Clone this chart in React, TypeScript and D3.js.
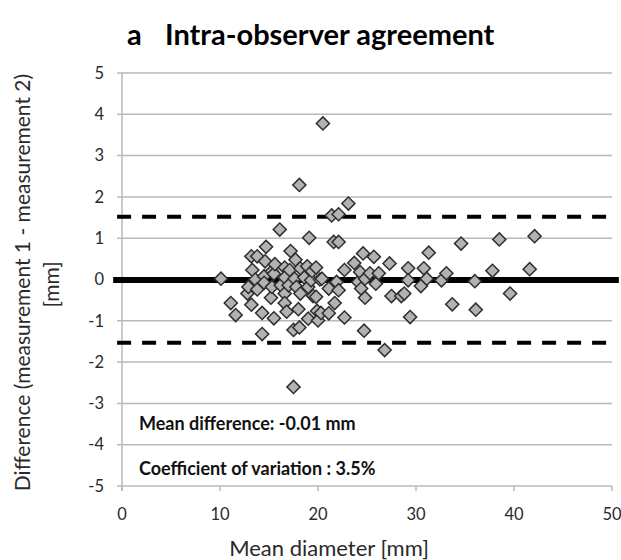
import React from 'react';
import * as d3 from 'd3';

// Bland-Altman: mean diameter [mm] vs difference [mm]
const meanDiameter = [
  10.1, 11.1, 11.6, 12.8, 12.9, 13.2, 13.2, 13.3, 13.6, 13.8, 13.8, 14.3, 14.3, 14.5, 14.5,
  14.6, 14.7, 15.2, 15.3, 15.3, 15.5, 15.5, 15.6, 16.1, 16.2, 16.6, 16.6, 16.6, 16.6, 16.8,
  17.0, 17.1, 17.2, 17.5, 17.5, 17.6, 17.7, 17.8, 18.0, 18.1, 18.1, 18.2, 18.2, 18.6, 18.9,
  19.0, 19.0, 19.1, 19.3, 19.4, 19.5, 19.8, 19.8, 19.9, 20.0, 20.2, 20.3, 20.4, 20.5, 21.1,
  21.1, 21.4, 21.6, 21.7, 21.9, 22.1, 22.1, 22.1, 22.7, 22.7, 23.1, 23.7, 24.1, 24.3, 24.4,
  24.6, 24.7, 24.8, 24.8, 25.3, 25.7, 25.9, 26.2, 26.8, 27.3, 27.5, 28.5, 28.8, 29.2, 29.2,
  29.4, 30.5, 30.8, 31.1, 31.3, 32.6, 33.1, 33.7, 34.6, 36.0, 36.1, 37.8, 38.5, 39.6, 41.6,
  42.1,
];
const difference = [
  0.02, -0.57, -0.86, -0.34, -0.18, -0.61, 0.56, 0.23, 0.0, 0.56, -0.24, -0.81, -1.32, 0.08, -0.08,
  0.44, 0.79, -0.44, 0.2, -0.18, 0.14, -0.94, 0.37, 1.21, -0.14, 0.29, 0.05, -0.34, -0.57, -0.78,
  -0.14, 0.23, 0.69, -2.6, -1.22, 0.02, 0.48, -0.18, -0.72, 2.29, -1.16, 0.27, -0.34, 0.05, 0.32,
  -0.18, -0.95, 1.01, -0.02, 0.2, -0.4, 0.29, -0.42, -0.76, -0.99, 0.0, -0.81, 0.02, 3.78, -0.22,
  -0.82, 1.55, 0.91, -0.57, -0.06, 1.58, 0.91, -0.26, 0.23, -0.92, 1.84, 0.4, -0.06, 0.18, -0.22,
  0.63, -1.24, 0.02, -0.44, 0.15, 0.55, -0.1, 0.15, -1.71, 0.39, -0.4, -0.4, -0.34, 0.27, -0.02,
  -0.91, -0.16, 0.27, 0.02, 0.65, -0.02, 0.15, -0.6, 0.87, -0.04, -0.73, 0.21, 0.97, -0.34, 0.25,
  1.05,
];

const meanDiff = -0.01;
const upperLimit = 1.52;
const lowerLimit = -1.53;

const xTicks = [0, 10, 20, 30, 40, 50];
const yTicks = [5, 4, 3, 2, 1, 0, -1, -2, -3, -4, -5];

const annotations = ['Mean difference: -0.01 mm', 'Coefficient of variation : 3.5%'];

const font = 'Lato, "Open Sans", sans-serif';

export default function App() {
  const width = 621;
  const height = 560;
  const margin = { top: 73, right: 9, bottom: 74, left: 122 };

  const x = d3.scaleLinear().domain([0, 50]).range([margin.left, width - margin.right]);
  const y = d3.scaleLinear().domain([-5, 5]).range([height - margin.bottom, margin.top]);

  const diamond = d3.symbol(d3.symbolSquare, 86)() as string;
  const points = meanDiameter.map((m, i) => ({ m, d: difference[i] }));

  const gridColor = '#b9b9b9';
  const textColor = '#2a2a2a';
  const midY = (y(5) + y(-5)) / 2;

  return (
    <svg
      width={width}
      height={height}
      style={{ position: 'absolute', left: 0, top: 0, background: '#fff' }}
    >
      {/* title */}
      <text x={127} y={45} fontFamily={font} fontWeight="bold" fontSize={29} fill="#000">
        a
        <tspan x={165}>Intra-observer agreement</tspan>
      </text>

      {/* horizontal gridlines */}
      {yTicks.map(t => (
        <line
          key={'g' + t}
          x1={x(0) - 5}
          x2={x(50)}
          y1={y(t)}
          y2={y(t)}
          stroke={gridColor}
          strokeWidth={1.5}
        />
      ))}

      {/* y axis */}
      <line x1={x(0)} x2={x(0)} y1={y(5)} y2={y(-5) + 5} stroke={gridColor} strokeWidth={1.5} />
      {/* x axis ticks */}
      {xTicks.map(t => (
        <line
          key={'xt' + t}
          x1={x(t)}
          x2={x(t)}
          y1={y(-5)}
          y2={y(-5) + 5}
          stroke={gridColor}
          strokeWidth={1.5}
        />
      ))}

      {/* y tick labels */}
      {yTicks.map(t => (
        <text
          key={'yl' + t}
          x={x(0) - 18}
          y={y(t)}
          dy="0.35em"
          textAnchor="end"
          fontFamily={font}
          fontSize={16.5}
          fill={textColor}
        >
          {t}
        </text>
      ))}

      {/* x tick labels */}
      {xTicks.map(t => (
        <text
          key={'xl' + t}
          x={x(t)}
          y={y(-5) + 28}
          dy="0.35em"
          textAnchor="middle"
          fontFamily={font}
          fontSize={16.5}
          fill={textColor}
        >
          {t}
        </text>
      ))}

      {/* axis titles */}
      <text
        x={329}
        y={y(-5) + 62}
        dy="0.35em"
        textAnchor="middle"
        fontFamily={font}
        fontSize={22}
        fill={textColor}
      >
        Mean diameter [mm]
      </text>
      <g transform={`translate(23, ${midY + 3}) rotate(-90)`}>
        <text textAnchor="middle" dy="0.35em" fontFamily={font} fontSize={21} fill={textColor}>
          Difference (measurement 1 - measurement 2)
        </text>
      </g>
      <g transform={`translate(52, ${midY + 5}) rotate(-90)`}>
        <text textAnchor="middle" dy="0.35em" fontFamily={font} fontSize={21} fill={textColor}>
          [mm]
        </text>
      </g>

      {/* limits of agreement */}
      {[upperLimit, lowerLimit].map(v => (
        <line
          key={'lim' + v}
          x1={x(-0.5)}
          x2={x(50.5)}
          y1={y(v)}
          y2={y(v)}
          stroke="#000"
          strokeWidth={4}
          strokeDasharray="14 11"
        />
      ))}
      {/* mean difference */}
      <line
        x1={x(-0.9)}
        x2={x(50.7)}
        y1={y(meanDiff)}
        y2={y(meanDiff)}
        stroke="#000"
        strokeWidth={6}
      />

      {/* points */}
      {points.map((p, i) => (
        <path
          key={'p' + i}
          d={diamond}
          transform={`translate(${x(p.m)},${y(p.d)}) rotate(45)`}
          fill="#b2b2b2"
          stroke="#2e2e2e"
          strokeWidth={1.5}
        />
      ))}

      {/* annotations */}
      {annotations.map((a, i) => (
        <text
          key={'a' + i}
          x={139}
          y={i === 0 ? 424 : 469}
          dy="0.35em"
          fontFamily={font}
          fontWeight="bold"
          fontSize={18}
          fill="#111"
        >
          {a}
        </text>
      ))}
    </svg>
  );
}
